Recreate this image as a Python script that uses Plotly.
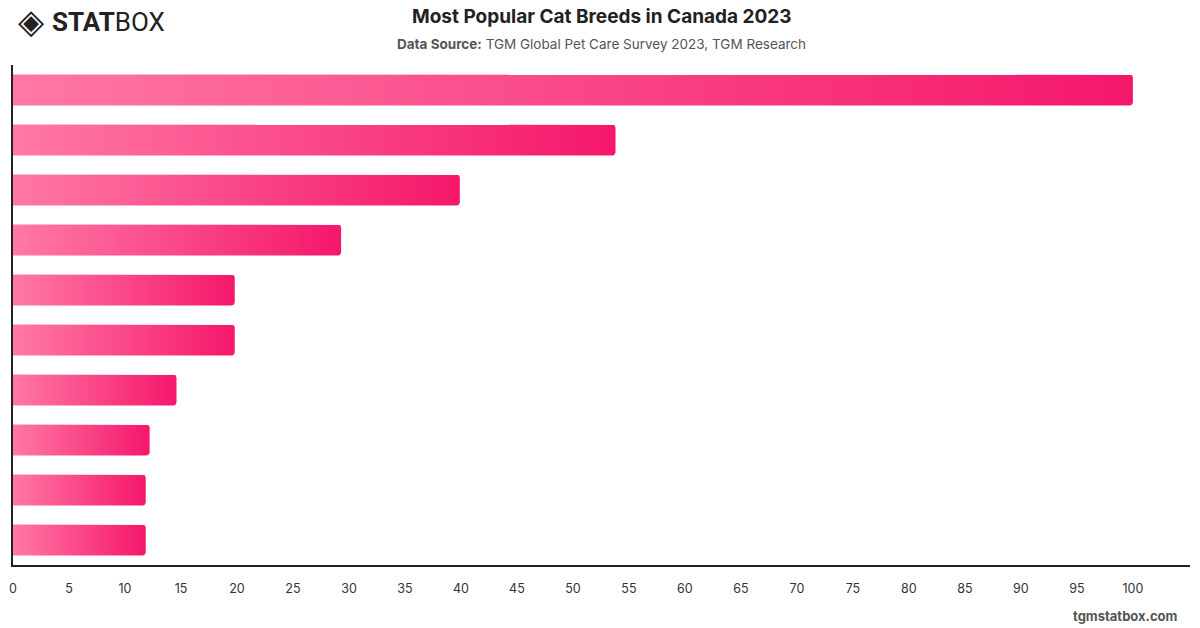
import math
import plotly.graph_objects as go

# Data
categories = ["#1", "#2", "#3", "#4", "#5", "#6", "#7", "#8", "#9", "#10"]
values = [100, 53.8, 39.9, 29.3, 19.8, 19.8, 14.6, 12.2, 11.85, 11.85]
tick_vals = list(range(0, 101, 5))
tick_text = [str(v) for v in tick_vals]

title_text = "Most Popular Cat Breeds in Canada 2023"
subtitle_text = "<b>Data Source:</b> TGM Global Pet Care Survey 2023, TGM Research"

W, H = 1200, 628
l, r, t, b = 9, 10, 65, 63
pw, ph = W - l - r, H - t - b
x_max = 105.1

bar_half = 0.31
grad = [[0, "#FF78A6"], [1, "#F5176A"]]

# corner radius of 3 px expressed in axis units
rx = 3 * x_max / pw
ry = 3 * 10 / ph

fig = go.Figure()
for i, (cat, v) in enumerate(zip(categories, values)):
    y0, y1 = i - bar_half, i + bar_half
    xs, ys = [0], [y0]
    for k in range(0, 7):
        ang = -math.pi / 2 + k * (math.pi / 2) / 6
        xs.append(v - rx + rx * math.cos(ang))
        ys.append(y0 + ry + ry * math.sin(ang))
    for k in range(0, 7):
        ang = k * (math.pi / 2) / 6
        xs.append(v - rx + rx * math.cos(ang))
        ys.append(y1 - ry + ry * math.sin(ang))
    xs += [0, 0]
    ys += [y1, y0]
    fig.add_trace(go.Scatter(
        x=xs, y=ys,
        mode="lines",
        line=dict(width=0),
        fill="toself",
        fillgradient=dict(type="horizontal", colorscale=grad),
        name=cat,
        hoverinfo="text",
        text=f"{cat}: {v}",
        showlegend=False,
    ))

font_main = "Inter, Liberation Sans, sans-serif"

fig.update_layout(
    width=W, height=H,
    margin=dict(l=l, r=r, t=t, b=b),
    paper_bgcolor="white", plot_bgcolor="white",
    showlegend=False,
    xaxis=dict(
        range=[0, x_max], tickvals=tick_vals, ticktext=tick_text,
        showgrid=False, zeroline=False,
        showline=True, linecolor="#222", linewidth=1.5,
        ticks="", ticklabelstandoff=11,
        tickfont=dict(family=font_main, size=12.5, color="#333"),
        fixedrange=True,
    ),
    yaxis=dict(
        range=[9.5, -0.5], showticklabels=False, showgrid=False, zeroline=False,
        showline=True, linecolor="#222", linewidth=1.5, ticks="",
        fixedrange=True,
    ),
)

def px_ann(text, x, y, size, color, family=font_main, xanchor="center"):
    fig.add_annotation(
        text=text, x=(x - l) / pw, y=(H - b - y) / ph, xref="paper", yref="paper",
        xanchor=xanchor, yanchor="middle", showarrow=False,
        font=dict(family=family, size=size, color=color),
    )

px_ann("<b>" + title_text + "</b>", 600, 17, 19, "#222")
px_ann(subtitle_text, 600, 44, 13.5, "#555")
px_ann("<b>tgmstatbox.com</b>", 1180, 616, 13, "#555", xanchor="right")
px_ann("◈", 12, 21, 34, "#222", family="DejaVu Sans", xanchor="left")
px_ann("<b>STAT</b>BOX", 46, 22, 26, "#222", family="Roboto, Liberation Sans, sans-serif", xanchor="left")

fig.write_html("out.html")
